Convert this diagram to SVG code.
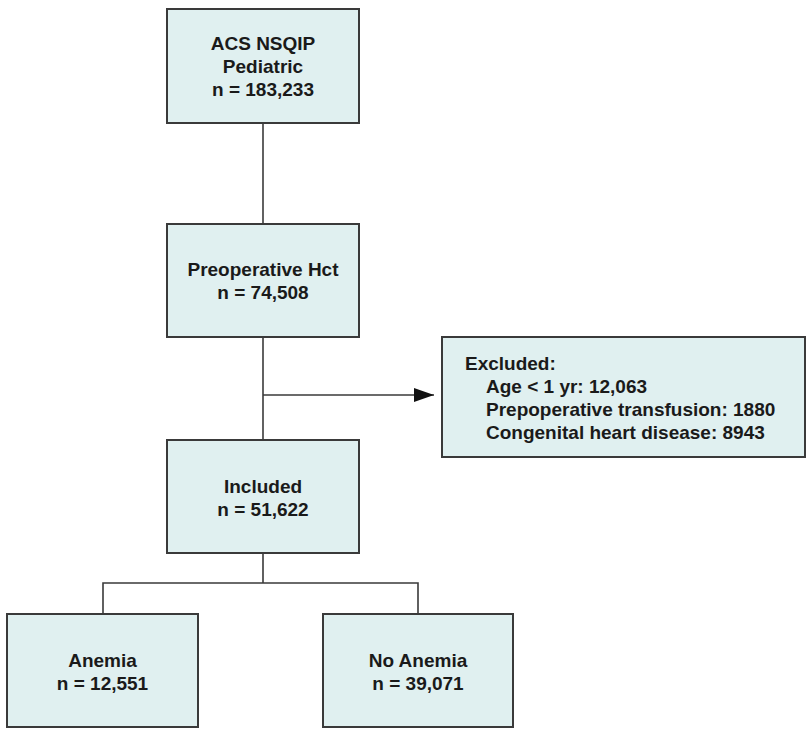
<svg xmlns="http://www.w3.org/2000/svg" width="807" height="729" viewBox="0 0 807 729">
<defs>
<style>
.box{fill:#e0f0f0;stroke:#3a3a3a;stroke-width:2}
.t{font-family:"Liberation Sans",Arial,sans-serif;font-weight:bold;font-size:19px;fill:#1a1a1a}
.c{text-anchor:middle}
.ln{fill:none;stroke:#3a3a3a;stroke-width:1.6}
</style>
<marker id="ah" markerWidth="20" markerHeight="14" refX="20" refY="7" orient="auto" markerUnits="userSpaceOnUse">
<path d="M0,0 L20,7 L0,14 Z" fill="#111"/>
</marker>
</defs>
<rect width="807" height="729" fill="#fff"/>
<g id="connectors">
<line class="ln" x1="263" y1="123" x2="263" y2="224"/>
<line class="ln" x1="263" y1="337" x2="263" y2="440"/>
<line class="ln" x1="263" y1="395" x2="434" y2="395" marker-end="url(#ah)"/>
<path class="ln" d="M263,553 V583 M103,614 V583 H418 V614"/>
</g>
<g id="n1">
<rect class="box" x="167" y="9" width="192" height="114"/>
<text class="t c" x="263" y="50">ACS NSQIP</text>
<text class="t c" x="263" y="73">Pediatric</text>
<text class="t c" x="263" y="96">n = 183,233</text>
</g>
<g id="n2">
<rect class="box" x="167" y="224" width="192" height="113"/>
<text class="t c" x="263" y="276">Preoperative Hct</text>
<text class="t c" x="263" y="299">n = 74,508</text>
</g>
<g id="n3">
<rect class="box" x="167" y="440" width="192" height="113"/>
<text class="t c" x="263" y="493">Included</text>
<text class="t c" x="263" y="516">n = 51,622</text>
</g>
<g id="excluded">
<rect class="box" x="442" y="337" width="363" height="120"/>
<text class="t" x="465" y="370">Excluded:</text>
<text class="t" x="486" y="393">Age &lt; 1 yr: 12,063</text>
<text class="t" x="486" y="416">Prepoperative transfusion: 1880</text>
<text class="t" x="486" y="439">Congenital heart disease: 8943</text>
</g>
<g id="anemia">
<rect class="box" x="7" y="614" width="191" height="113"/>
<text class="t c" x="102.5" y="667">Anemia</text>
<text class="t c" x="102.5" y="690">n = 12,551</text>
</g>
<g id="noanemia">
<rect class="box" x="323" y="614" width="190" height="113"/>
<text class="t c" x="418" y="667">No Anemia</text>
<text class="t c" x="418" y="690">n = 39,071</text>
</g>
</svg>
